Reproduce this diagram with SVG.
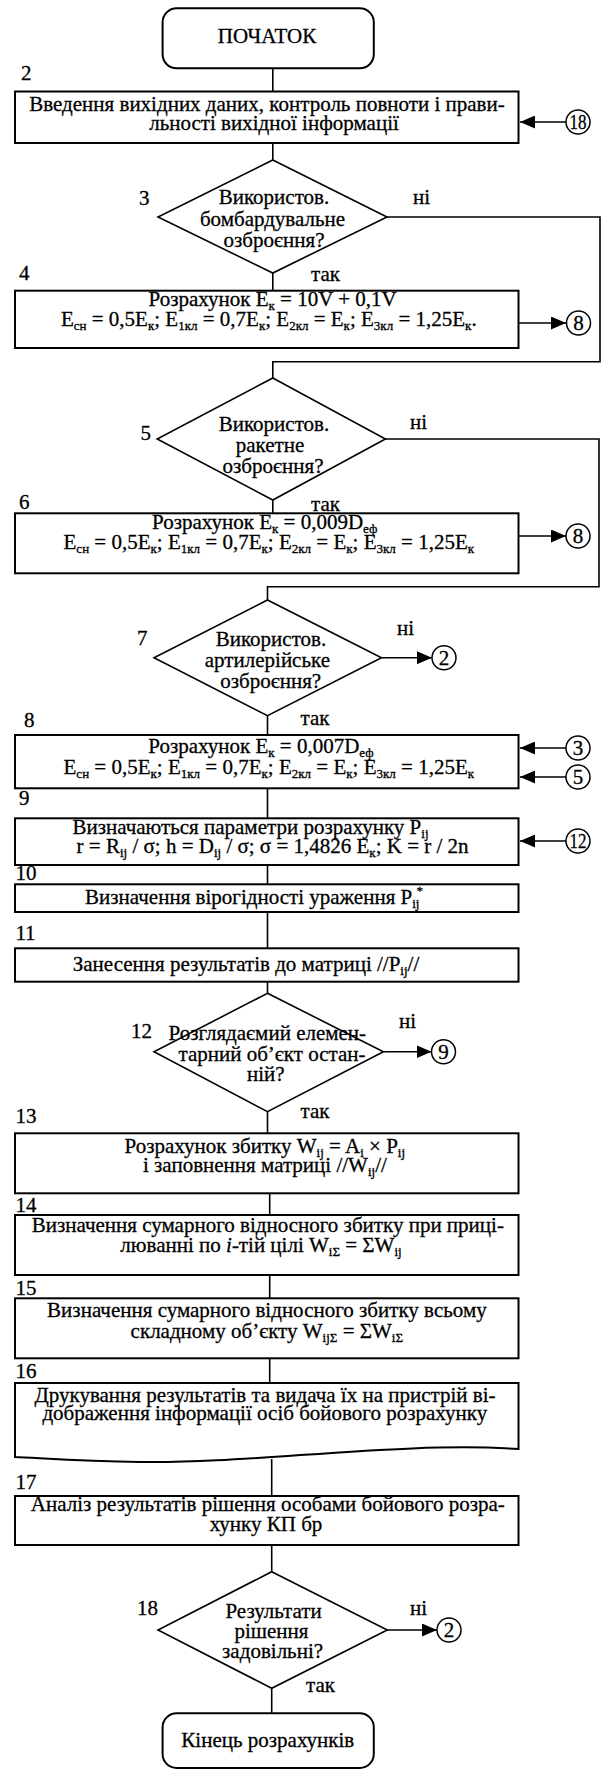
<svg xmlns="http://www.w3.org/2000/svg" width="603" height="1769" viewBox="0 0 603 1769" font-family="'Liberation Serif', 'Times New Roman', serif">
<style>
.t{font-family:'Liberation Serif','Times New Roman',serif;font-size:21px;fill:#000;stroke:#000;stroke-width:0.3}
.m{text-anchor:middle}
.s{font-size:13px}
.box{fill:#fff;stroke:#000;stroke-width:2}
.dia{fill:#fff;stroke:#000;stroke-width:1.6}
.c{fill:#fff;stroke:#000;stroke-width:1.5}
.ln{fill:none;stroke:#000;stroke-width:1.6}
</style>
<defs>
<marker id="ah" markerWidth="16" markerHeight="13" refX="15" refY="6.5" orient="auto" markerUnits="userSpaceOnUse"><path d="M0,0 L15,6.5 L0,13 z" fill="#000"/></marker>
</defs>
<rect width="603" height="1769" fill="#fff"/>
<g id="connectors">
<path class="ln" d="M272.8,68.3 V91.5"/>
<path class="ln" d="M272.8,143 V160"/>
<path class="ln" d="M272.8,273 V290.7"/>
<path class="ln" d="M387,217 H600 V361.7 H272.8 V378"/>
<path class="ln" d="M272.8,500 V513.3"/>
<path class="ln" d="M385.4,439 H599 V586.7 H267.5 V600"/>
<path class="ln" d="M267.5,715.7 V735"/>
<path class="ln" d="M267.5,788.3 V818.3"/>
<path class="ln" d="M267.5,865 V884.3"/>
<path class="ln" d="M267.5,912 V948.3"/>
<path class="ln" d="M267.5,981.7 V993.3"/>
<path class="ln" d="M267.5,1111.7 V1133.3"/>
<path class="ln" d="M269.7,1193.3 V1215"/>
<path class="ln" d="M269.7,1275 V1298.3"/>
<path class="ln" d="M269.7,1358.3 V1383"/>
<path class="ln" d="M271.7,1459 V1496"/>
<path class="ln" d="M271.7,1545 V1571.7"/>
<path class="ln" d="M271.7,1688.3 V1713.3"/>
<path class="ln" d="M566,122 H520" marker-end="url(#ah)"/>
<path class="ln" d="M518.5,323 H566" marker-end="url(#ah)"/>
<path class="ln" d="M518.5,536 H566" marker-end="url(#ah)"/>
<path class="ln" d="M381.5,657.7 H432" marker-end="url(#ah)"/>
<path class="ln" d="M566,748 H520" marker-end="url(#ah)"/>
<path class="ln" d="M566,777 H520" marker-end="url(#ah)"/>
<path class="ln" d="M566,841 H520" marker-end="url(#ah)"/>
<path class="ln" d="M383.4,1051.7 H431.5" marker-end="url(#ah)"/>
<path class="ln" d="M387.3,1630 H437" marker-end="url(#ah)"/>
<text class="t" x="413" y="204">ні</text>
<text class="t" x="311" y="281">так</text>
<text class="t" x="410" y="429">ні</text>
<text class="t" x="311" y="511">так</text>
<text class="t" x="397" y="635">ні</text>
<text class="t" x="300.6" y="725">так</text>
<text class="t" x="399" y="1028">ні</text>
<text class="t" x="300.6" y="1118">так</text>
<text class="t" x="410" y="1615">ні</text>
<text class="t" x="306" y="1692">так</text>
</g>
<g id="n1">
<rect class="box" x="162.6" y="8.3" width="211.2" height="60" rx="14"/>
<text class="t m" x="267" y="43">ПОЧАТОК</text>
</g>
<g id="n2">
<text class="t" x="21" y="80">2</text>
<rect class="box" x="15" y="91.5" width="503.5" height="51.5"/>
<text class="t m" x="267" y="111">Введення вихідних даних, контроль повноти і прави-</text>
<text class="t m" x="274" y="130">льності вихідної інформації</text>
</g>
<g id="c18"><circle class="c" cx="578" cy="122" r="12"/><text class="t m" x="578" y="129" textLength="17" lengthAdjust="spacingAndGlyphs">18</text></g>
<g id="n3">
<text class="t" x="139" y="205">3</text>
<polygon class="dia" points="272.8,160 387,217 272.8,273 158,217"/>
<text class="t m" x="274" y="204">Використов.</text>
<text class="t m" x="272.5" y="226">бомбардувальне</text>
<text class="t m" x="274" y="247">озброєння?</text>
</g>
<g id="n4">
<text class="t" x="19" y="280">4</text>
<rect class="box" x="15" y="290.7" width="503.5" height="57.3"/>
<text class="t m" x="272.6" y="306">Розрахунок E<tspan class="s" dy="4">к</tspan><tspan dy="-4"> = 10V + 0,1V</tspan></text>
<text class="t m" x="268.8" y="326">E<tspan class="s" dy="4">сн</tspan><tspan dy="-4"> = 0,5E</tspan><tspan class="s" dy="4">к</tspan><tspan dy="-4">; E</tspan><tspan class="s" dy="4">1кл</tspan><tspan dy="-4"> = 0,7E</tspan><tspan class="s" dy="4">к</tspan><tspan dy="-4">; E</tspan><tspan class="s" dy="4">2кл</tspan><tspan dy="-4"> = E</tspan><tspan class="s" dy="4">к</tspan><tspan dy="-4">; E</tspan><tspan class="s" dy="4">3кл</tspan><tspan dy="-4"> = 1,25E</tspan><tspan class="s" dy="4">к</tspan><tspan dy="-4">.</tspan></text>
</g>
<g id="c8a"><circle class="c" cx="578.5" cy="323" r="12"/><text class="t m" x="578.5" y="330">8</text></g>
<g id="n5">
<text class="t" x="140.6" y="440">5</text>
<polygon class="dia" points="272.8,378 385.4,439 272.8,500 157.2,439"/>
<text class="t m" x="274" y="431">Використов.</text>
<text class="t m" x="270" y="452">ракетне</text>
<text class="t m" x="273" y="473">озброєння?</text>
</g>
<g id="n6">
<text class="t" x="19" y="509">6</text>
<rect class="box" x="15" y="513.3" width="503.5" height="60"/>
<text class="t m" x="264.7" y="529">Розрахунок E<tspan class="s" dy="4">к</tspan><tspan dy="-4"> = 0,009D</tspan><tspan class="s" dy="4">еф</tspan></text>
<text class="t m" x="268.8" y="549">E<tspan class="s" dy="4">сн</tspan><tspan dy="-4"> = 0,5E</tspan><tspan class="s" dy="4">к</tspan><tspan dy="-4">; E</tspan><tspan class="s" dy="4">1кл</tspan><tspan dy="-4"> = 0,7E</tspan><tspan class="s" dy="4">к</tspan><tspan dy="-4">; E</tspan><tspan class="s" dy="4">2кл</tspan><tspan dy="-4"> = E</tspan><tspan class="s" dy="4">к</tspan><tspan dy="-4">; E</tspan><tspan class="s" dy="4">3кл</tspan><tspan dy="-4"> = 1,25E</tspan><tspan class="s" dy="4">к</tspan></text>
</g>
<g id="c8b"><circle class="c" cx="578" cy="536" r="12"/><text class="t m" x="578" y="543">8</text></g>
<g id="n7">
<text class="t" x="137" y="645">7</text>
<polygon class="dia" points="267.5,600 381.5,657.7 267.5,715.7 154,657.7"/>
<text class="t m" x="271" y="646">Використов.</text>
<text class="t m" x="267.4" y="667">артилерійське</text>
<text class="t m" x="270.7" y="688">озброєння?</text>
</g>
<g id="c2a"><circle class="c" cx="444" cy="657.7" r="12"/><text class="t m" x="444" y="664.7">2</text></g>
<g id="n8">
<text class="t" x="24" y="727">8</text>
<rect class="box" x="15" y="735" width="503.5" height="53.3"/>
<text class="t m" x="261" y="753">Розрахунок E<tspan class="s" dy="4">к</tspan><tspan dy="-4"> = 0,007D</tspan><tspan class="s" dy="4">еф</tspan></text>
<text class="t m" x="268.8" y="774">E<tspan class="s" dy="4">сн</tspan><tspan dy="-4"> = 0,5E</tspan><tspan class="s" dy="4">к</tspan><tspan dy="-4">; E</tspan><tspan class="s" dy="4">1кл</tspan><tspan dy="-4"> = 0,7E</tspan><tspan class="s" dy="4">к</tspan><tspan dy="-4">; E</tspan><tspan class="s" dy="4">2кл</tspan><tspan dy="-4"> = E</tspan><tspan class="s" dy="4">к</tspan><tspan dy="-4">; E</tspan><tspan class="s" dy="4">3кл</tspan><tspan dy="-4"> = 1,25E</tspan><tspan class="s" dy="4">к</tspan></text>
</g>
<g id="c3"><circle class="c" cx="578" cy="748" r="12"/><text class="t m" x="578" y="755">3</text></g>
<g id="c5"><circle class="c" cx="578" cy="777" r="12"/><text class="t m" x="578" y="784">5</text></g>
<g id="n9">
<text class="t" x="19" y="805">9</text>
<rect class="box" x="15" y="818.3" width="503.5" height="46.7"/>
<text class="t m" x="250.5" y="834">Визначаються параметри розрахунку P<tspan class="s" dy="4">ij</tspan></text>
<text class="t m" x="272.6" y="853">r = R<tspan class="s" dy="4">ij</tspan><tspan dy="-4"> / σ; h = D</tspan><tspan class="s" dy="4">ij</tspan><tspan dy="-4"> / σ; σ = 1,4826 E</tspan><tspan class="s" dy="4">к</tspan><tspan dy="-4">; K = r / 2n</tspan></text>
</g>
<g id="c12"><circle class="c" cx="578" cy="841" r="12"/><text class="t m" x="578" y="848" textLength="17" lengthAdjust="spacingAndGlyphs">12</text></g>
<g id="n10">
<text class="t" x="15.4" y="880">10</text>
<rect class="box" x="15" y="884.3" width="503.5" height="27.7"/>
<text class="t m" x="254" y="904">Визначення вірогідності ураження P<tspan class="s" dy="4">ij</tspan><tspan class="s" dx="-3" dy="-13">*</tspan></text>
</g>
<g id="n11">
<text class="t" x="15.4" y="940">11</text>
<rect class="box" x="15" y="948.3" width="503.5" height="33.4"/>
<text class="t m" x="246" y="971">Занесення результатів до матриці //P<tspan class="s" dy="4">ij</tspan><tspan dy="-4">//</tspan></text>
</g>
<g id="n12">
<text class="t" x="131" y="1038">12</text>
<polygon class="dia" points="267.5,993.3 383.4,1051.7 267.5,1111.7 154,1051.7"/>
<text class="t m" x="267.3" y="1040">Розглядаємий елемен-</text>
<text class="t m" x="272" y="1061">тарний об’єкт остан-</text>
<text class="t m" x="265.8" y="1081">ній?</text>
</g>
<g id="c9"><circle class="c" cx="443.5" cy="1051.7" r="12"/><text class="t m" x="443.5" y="1058.7">9</text></g>
<g id="n13">
<text class="t" x="15.4" y="1123">13</text>
<rect class="box" x="15" y="1133.3" width="503.5" height="60"/>
<text class="t m" x="264.8" y="1153">Розрахунок збитку W<tspan class="s" dy="4">ij</tspan><tspan dy="-4"> = A</tspan><tspan class="s" dy="4">i</tspan><tspan dy="-4"> × P</tspan><tspan class="s" dy="4">ij</tspan></text>
<text class="t m" x="264.9" y="1172">і заповнення матриці //W<tspan class="s" dy="4">ij</tspan><tspan dy="-4">//</tspan></text>
</g>
<g id="n14">
<text class="t" x="15.4" y="1212">14</text>
<rect class="box" x="15" y="1215" width="503.5" height="60"/>
<text class="t m" x="267.8" y="1232">Визначення сумарного відносного збитку при прицi-</text>
<text class="t m" x="261" y="1252">люванні по <tspan font-style="italic">i</tspan>-тій цілі W<tspan class="s" dy="4">iΣ</tspan><tspan dy="-4"> = ΣW</tspan><tspan class="s" dy="4">ij</tspan></text>
</g>
<g id="n15">
<text class="t" x="15.4" y="1295">15</text>
<rect class="box" x="15" y="1298.3" width="503.5" height="60"/>
<text class="t m" x="266.9" y="1317">Визначення сумарного відносного збитку всьому</text>
<text class="t m" x="266.8" y="1338">складному об’єкту W<tspan class="s" dy="4">ijΣ</tspan><tspan dy="-4"> = ΣW</tspan><tspan class="s" dy="4">iΣ</tspan></text>
</g>
<g id="n16">
<text class="t" x="15.4" y="1378">16</text>
<path class="box" d="M15,1383 H518.5 V1449 C400,1441 250,1464 140,1462 C80,1461 40,1458 15,1457 Z"/>
<text class="t m" x="265" y="1402">Друкування результатів та видача їх на пристрій ві-</text>
<text class="t m" x="264.8" y="1420">дображення інформації осіб бойового розрахунку</text>
</g>
<g id="n17">
<text class="t" x="15.4" y="1489">17</text>
<rect class="box" x="15" y="1496" width="503.5" height="49"/>
<text class="t m" x="267.8" y="1511">Аналіз результатів рішення особами бойового розра-</text>
<text class="t m" x="266" y="1531">хунку КП бр</text>
</g>
<g id="n18">
<text class="t" x="137" y="1615">18</text>
<polygon class="dia" points="271.7,1571.7 387.3,1630 271.7,1688.3 158,1630"/>
<text class="t m" x="273.6" y="1618">Результати</text>
<text class="t m" x="271.5" y="1638">рішення</text>
<text class="t m" x="272.6" y="1658">задовільні?</text>
</g>
<g id="c2b"><circle class="c" cx="449" cy="1630" r="12"/><text class="t m" x="449" y="1637">2</text></g>
<g id="n19">
<rect class="box" x="162.6" y="1713.3" width="211.2" height="54.7" rx="14"/>
<text class="t m" x="267.8" y="1747">Кінець розрахунків</text>
</g>
</svg>
